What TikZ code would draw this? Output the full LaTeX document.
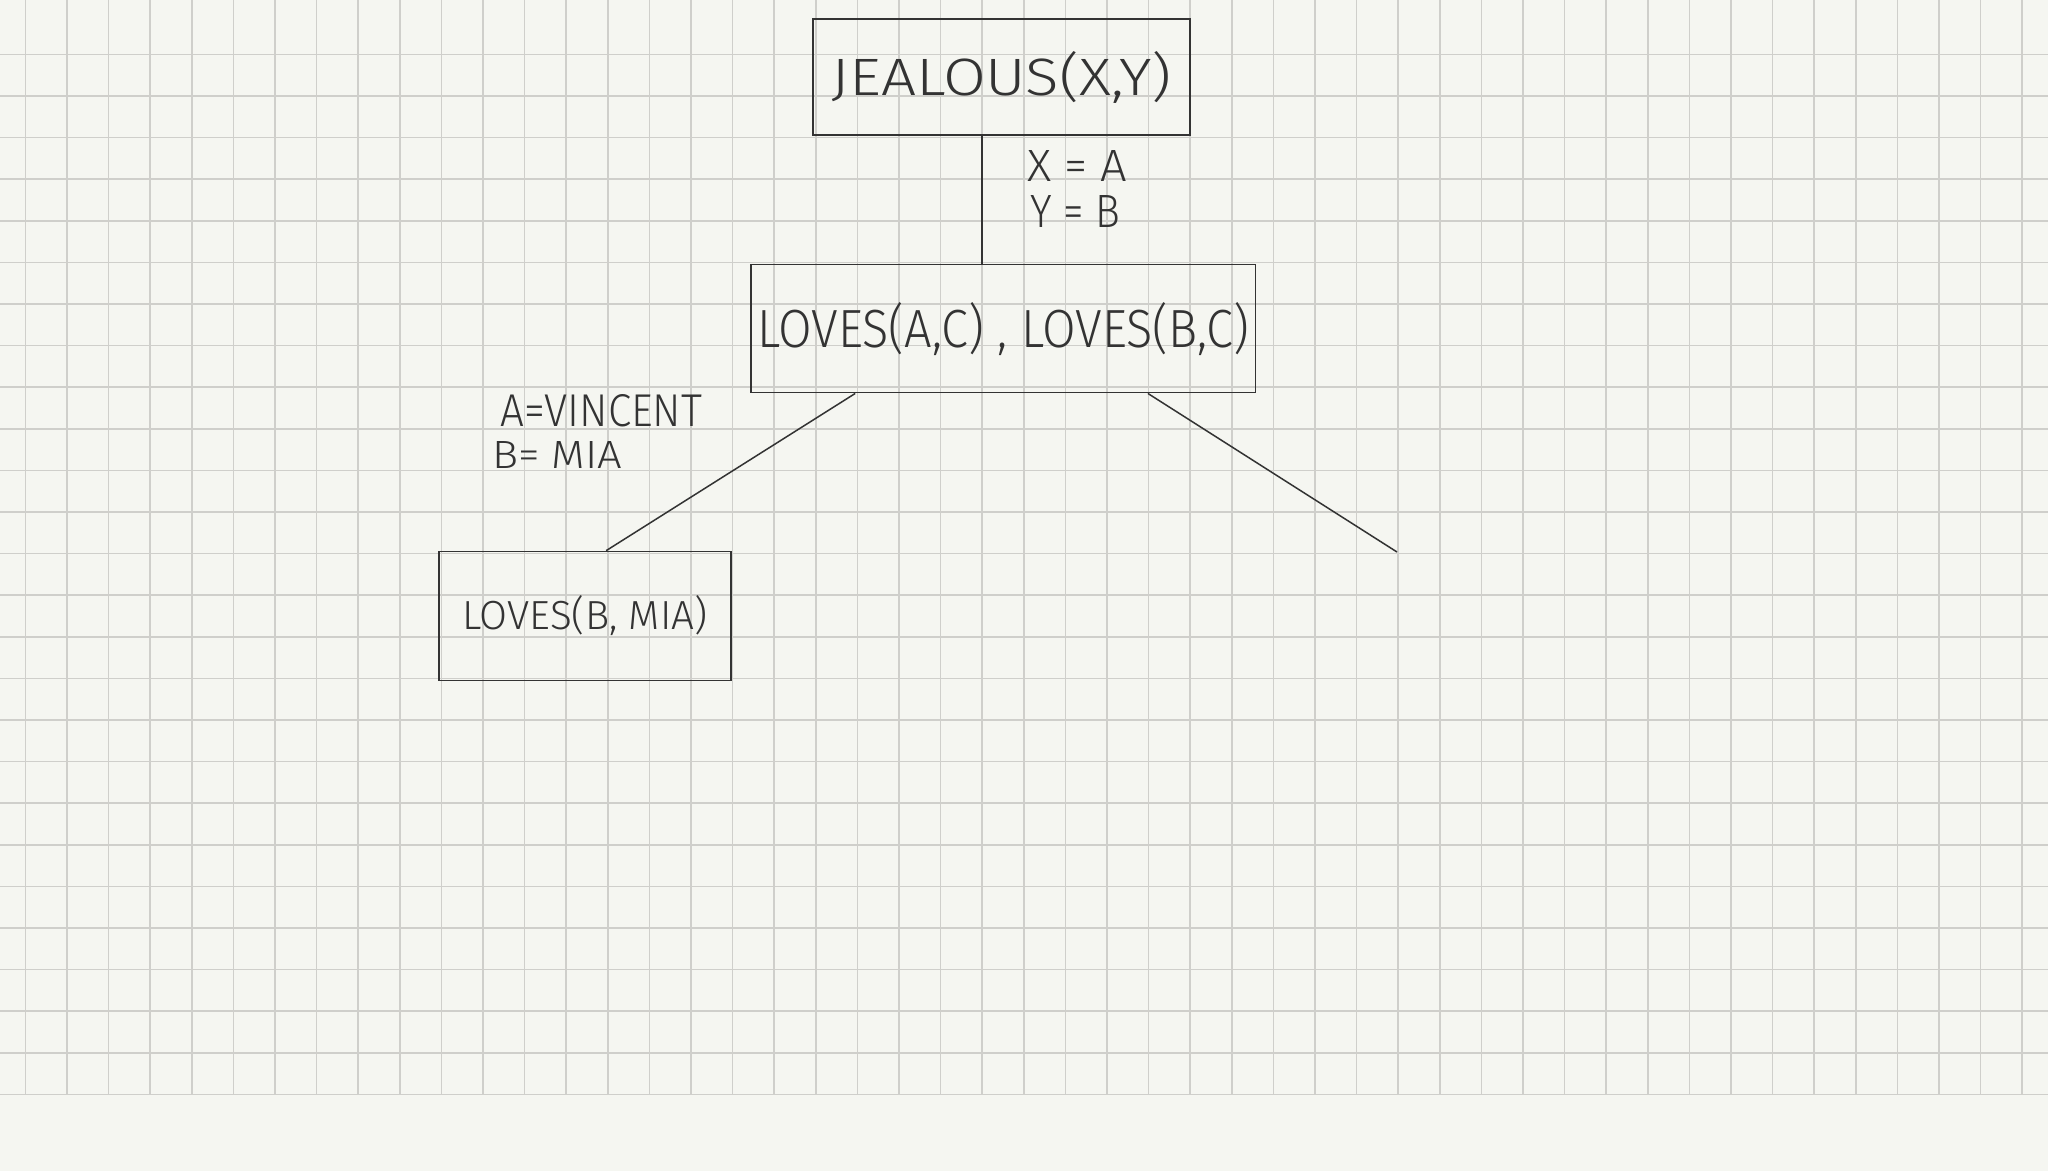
\documentclass[tikz,border=0pt]{standalone}
\usepackage{fontspec}
\setmainfont{Fira Sans Light}
\usepackage{graphicx}
\definecolor{paper}{HTML}{F5F6F1}
\definecolor{gridc}{HTML}{CFCFCB}
\definecolor{ink}{HTML}{333333}
\begin{document}
\begin{tikzpicture}[x=1pt,y=-1pt,
  box/.style={draw=ink,line width=1.7pt,inner sep=0pt,text=ink},
  link/.style={draw=ink,line width=1.5pt},
  lbl/.style={inner sep=0pt,text=ink,anchor=west}]
\useasboundingbox (0,0) rectangle (2048,1171);
\fill[paper] (0,0) rectangle (2048,1171);
% grid
\foreach \k in {0,...,48} \draw[gridc,line width=1.6pt] ({25.3+41.6*\k},0) -- ({25.3+41.6*\k},1094.3);
\foreach \k in {0,...,25} \draw[gridc,line width=1.6pt] (0,{54.3+41.6*\k}) -- (2048,{54.3+41.6*\k});
% boxes
\node[box,minimum width=377pt,minimum height=116pt] (b1) at (1001.5,77) {\resizebox{340pt}{44pt}{JEALOUS(X,Y)}};
\node[box,minimum width=504.5pt,minimum height=128pt] (b2) at (1003.3,328.6) {\resizebox{492pt}{45pt}{LOVES(A,C) , LOVES(B,C)}};
\node[box,minimum width=292pt,minimum height=129pt] (b3) at (585,616) {\resizebox{245pt}{34pt}{LOVES(B, MIA)}};
% labels
\node[lbl] (xa) at (1027,166) {\resizebox{100pt}{31pt}{X = A}};
\node[lbl] (yb) at (1030,211) {\resizebox{90pt}{32pt}{Y = B}};
\node[lbl] (av) at (500,411) {\resizebox{202pt}{32pt}{A=VINCENT}};
\node[lbl] (bm) at (492,455) {\resizebox{130pt}{27pt}{B= MIA}};
% connectors
\coordinate (r) at (1397,552);
\draw[link] ([xshift=-19.5pt]b1.south) -- ([xshift=-19.5pt]b1.south |- b2.north);
\draw[link] ([xshift=105pt]b2.south west) -- ([xshift=168pt]b3.north west);
\draw[link] ([xshift=-108.5pt]b2.south east) -- (r);
\end{tikzpicture}
\end{document}
